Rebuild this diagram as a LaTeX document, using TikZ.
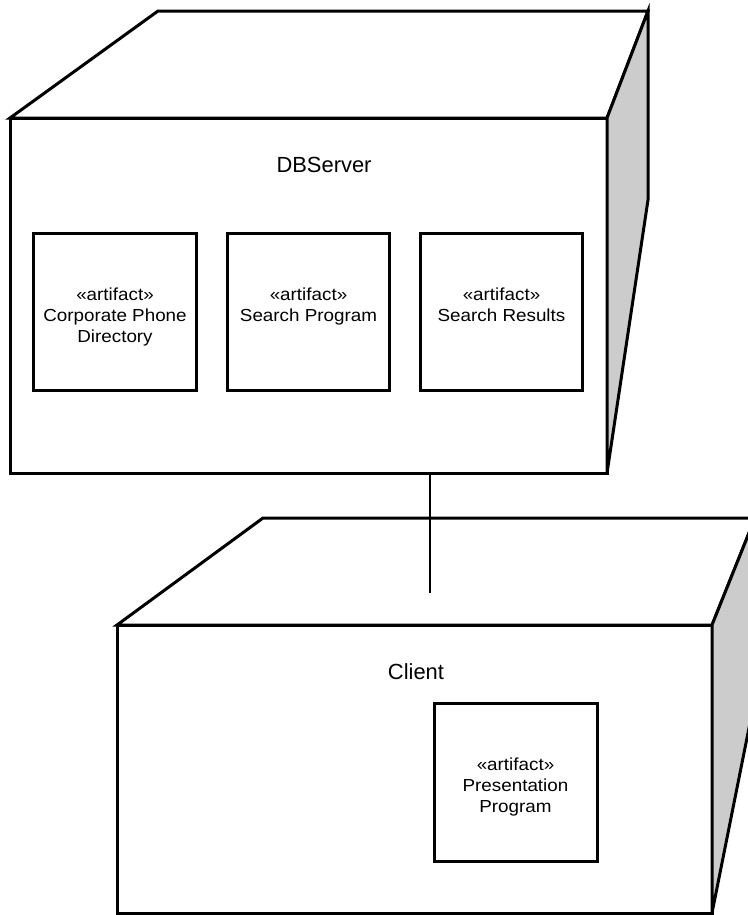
\documentclass[tikz,border=0pt]{standalone}
\usepackage{fontspec}
\setmainfont{Liberation Sans}
\newfontfamily\artfont[FakeStretch=1.08]{Liberation Sans}
\begin{document}
\begin{tikzpicture}[x=1bp,y=-1bp,
  edge/.style={line width=3bp, line join=miter},
  frontface/.style={draw, edge, fill=white, inner sep=0pt, outer sep=0pt, anchor=north west},
  topface/.style={edge, fill=white},
  sideface/.style={edge, fill=black!20},
  artifact/.style={draw, line width=3bp, inner sep=0pt, outer sep=0pt},
  arttext/.style={font=\artfont\fontsize{17.5}{21}\selectfont, align=center, anchor=north, inner sep=0pt},
  nodetitle/.style={font=\fontsize{22}{26}\selectfont, inner sep=0pt},
  link/.style={line width=2.6bp}]
\useasboundingbox (0,0) rectangle (748,915);
\clip (0,0) rectangle (748,915);

% DBServer node (3D box)
\node[frontface, minimum width=597bp, minimum height=355bp] (db) at (10,118) {};
\draw[topface] (db.north west) -- ++(148,-107) -- (648,11) -- (db.north east) -- cycle;
\draw[sideface] (db.north east) -- (648,11) -- (648,200) -- (db.south east) -- cycle;
\node[nodetitle] (dbtitle) at (324,165) {DBServer};

% artifacts deployed on DBServer
\node[artifact, minimum width=162bp, minimum height=157bp] (phone) at (115,311.5) {};
\node[artifact, minimum width=162bp, minimum height=157bp] (search) at (308.5,311.5) {};
\node[artifact, minimum width=162bp, minimum height=157bp] (results) at (501.5,311.5) {};
\path (phone.north) ++(0,55) node[arttext] (phonetxt) {«artifact»\\Corporate Phone\\Directory};
\path (search.north) ++(0,55) node[arttext] (searchtxt) {«artifact»\\Search Program};
\path (results.north) ++(0,55) node[arttext] (resultstxt) {«artifact»\\Search Results};

% Client node (3D box)
\node[frontface, minimum width=595bp, minimum height=288bp] (cl) at (117,625) {};
\draw[topface] (cl.north west) -- ++(146,-107) -- (755,518) -- (cl.north east) -- cycle;
\draw[sideface] (cl.north east) -- (755,518) -- (755,698) -- (cl.south east) -- cycle;
\node[nodetitle] (cltitle) at (416,672) {Client};

% artifact deployed on Client
\node[artifact, minimum width=163bp, minimum height=158bp] (pres) at (515.5,782) {};
\path (pres.north) ++(0,55) node[arttext] (prestxt) {«artifact»\\Presentation\\Program};

% communication path
\coordinate (linkend) at (430,593);
\draw[link] (db.south -| linkend) -- (linkend);
\end{tikzpicture}
\end{document}
